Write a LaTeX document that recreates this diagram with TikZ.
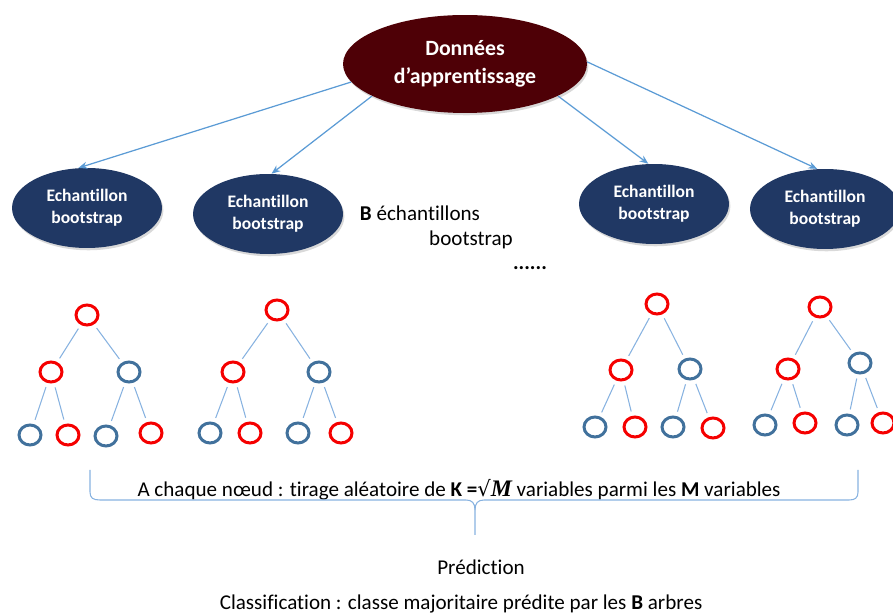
\documentclass[tikz,border=0pt]{standalone}
\usepackage{amsmath}
\usepackage{fontspec}
\setmainfont[Ligatures=NoCommon]{Carlito}
\newfontfamily\symbfont{DejaVu Sans}
\newfontfamily\seriffont{Liberation Serif}
\usepackage{tikz}
\usetikzlibrary{shapes.geometric,arrows.meta,positioning,shadows}

\definecolor{bordeaux}{RGB}{78,0,6}
\definecolor{marine}{RGB}{32,56,100}
\definecolor{fleche}{RGB}{91,155,213}
\definecolor{branche}{RGB}{135,178,224}
\definecolor{rouge}{RGB}{245,0,0}
\definecolor{bleu}{RGB}{65,113,156}

\tikzset{
    ombre/.style={drop shadow={shadow xshift=0.8pt, shadow yshift=-1.3pt, opacity=0.3}},
    racine/.style={ellipse, fill=bordeaux, ombre, minimum width=4.88cm, minimum height=1.96cm, inner sep=0pt, align=center, text=white, font=\bfseries\fontsize{12.4}{16}\selectfont},
    echant/.style={ellipse, fill=marine, ombre, minimum width=3cm, minimum height=1.6cm, inner sep=0pt, align=center, text=white, font=\bfseries\fontsize{10}{12.5}\selectfont},
    tirage/.style={-{Stealth[length=5pt,width=4pt]}, draw=fleche, line width=0.7pt},
    noeudr/.style={ellipse, draw=rouge, line width=1.7pt, minimum width=0.44cm, minimum height=0.4cm, inner sep=0pt},
    noeudb/.style={noeudr, draw=bleu},
    arete/.style={draw=branche, line width=0.6pt, shorten <=2.5pt, shorten >=2.5pt},
    texte/.style={font=\fontsize{12}{14}\selectfont, inner sep=0pt}
}

\begin{document}
\begin{tikzpicture}[x=0.02cm, y=-0.02cm]
    \useasboundingbox (0,0) rectangle (893,614);

    \node (data) [racine] at (465,64) {Données\\d’apprentissage};

    \node (b1) [echant] at (87,208) {Echantillon\\bootstrap};
    \node (b2) [echant] at (268,214) {Echantillon\\bootstrap};
    \node (b3) [echant] at (654,204) {Echantillon\\bootstrap};
    \node (b4) [echant] at (825,209) {Echantillon\\bootstrap};

    \draw[tirage] (data.189) -- (b1.102);
    \draw[tirage] (data.199) -- (b2.85);
    \draw[tirage] (data.341) -- (b3.98);
    \draw[tirage] (data.1) -- (b4.101);

    \node (nbB) [texte] at (420,213) {\textbf{B} échantillons};
    \node (nbboot) [texte] at (471,240) {bootstrap};
    \node (points) [texte] at (530,268) {\textbf{......}};

    % arbre 1
    \node (t1r) [noeudr] at (87,315) {};
    \node (t1a) [noeudr] at (51,372) {};
    \node (t1b) [noeudb] at (129,372) {};
    \node (t1aa) [noeudb] at (30,435) {};
    \node (t1ab) [noeudr] at (68,435) {};
    \node (t1ba) [noeudb] at (106,436) {};
    \node (t1bb) [noeudr] at (151,433) {};
    \draw[arete] (t1r) -- (t1a);
    \draw[arete] (t1r) -- (t1b);
    \draw[arete] (t1a) -- (t1aa);
    \draw[arete] (t1a) -- (t1ab);
    \draw[arete] (t1b) -- (t1ba);
    \draw[arete] (t1b) -- (t1bb);

    % arbre 2
    \node (t2r) [noeudr] at (277,310) {};
    \node (t2a) [noeudr] at (233,372) {};
    \node (t2b) [noeudb] at (319,372) {};
    \node (t2aa) [noeudb] at (210,433) {};
    \node (t2ab) [noeudr] at (250,433) {};
    \node (t2ba) [noeudb] at (298,433) {};
    \node (t2bb) [noeudr] at (341,433) {};
    \draw[arete] (t2r) -- (t2a);
    \draw[arete] (t2r) -- (t2b);
    \draw[arete] (t2a) -- (t2aa);
    \draw[arete] (t2a) -- (t2ab);
    \draw[arete] (t2b) -- (t2ba);
    \draw[arete] (t2b) -- (t2bb);

    % arbre 3
    \node (t3r) [noeudr] at (657,304) {};
    \node (t3a) [noeudr] at (621,370) {};
    \node (t3b) [noeudb] at (690,369) {};
    \node (t3aa) [noeudb] at (595,427) {};
    \node (t3ab) [noeudr] at (635,427) {};
    \node (t3ba) [noeudb] at (673,427) {};
    \node (t3bb) [noeudr] at (713,428) {};
    \draw[arete] (t3r) -- (t3a);
    \draw[arete] (t3r) -- (t3b);
    \draw[arete] (t3a) -- (t3aa);
    \draw[arete] (t3a) -- (t3ab);
    \draw[arete] (t3b) -- (t3ba);
    \draw[arete] (t3b) -- (t3bb);

    % arbre 4
    \node (t4r) [noeudr] at (820,307) {};
    \node (t4a) [noeudr] at (788,369) {};
    \node (t4b) [noeudb] at (860,363) {};
    \node (t4aa) [noeudb] at (765,425) {};
    \node (t4ab) [noeudr] at (805,423) {};
    \node (t4ba) [noeudb] at (847,425) {};
    \node (t4bb) [noeudr] at (883,423) {};
    \draw[arete] (t4r) -- (t4a);
    \draw[arete] (t4r) -- (t4b);
    \draw[arete] (t4a) -- (t4aa);
    \draw[arete] (t4a) -- (t4ab);
    \draw[arete] (t4b) -- (t4ba);
    \draw[arete] (t4b) -- (t4bb);

    \node (choix) [texte] at (459,490) {A chaque nœud : tirage aléatoire de \textbf{K =}{\symbfont √}{\seriffont\bfseries\itshape\fontsize{13.5}{14}\selectfont M} variables parmi les \textbf{M} variables};

    % accolade
    \draw[draw=branche, line width=0.6pt] (90,470) -- (90,492) .. controls (90,498) and (93,500) .. (100,500) -- (466,500)
        .. controls (472,500) and (475,503) .. (475,510) -- (475,535);
    \draw[draw=branche, line width=0.6pt] (475,510) .. controls (475,503) and (478,500) .. (484,500) -- (849,500)
        .. controls (855,500) and (858,498) .. (858,492) -- (858,470);

    \node (pred) [texte] at (481,567) {Prédiction};
    \node (classif) [texte] at (461,604) {Classification : classe majoritaire prédite par les \textbf{B} arbres};
\end{tikzpicture}
\end{document}
